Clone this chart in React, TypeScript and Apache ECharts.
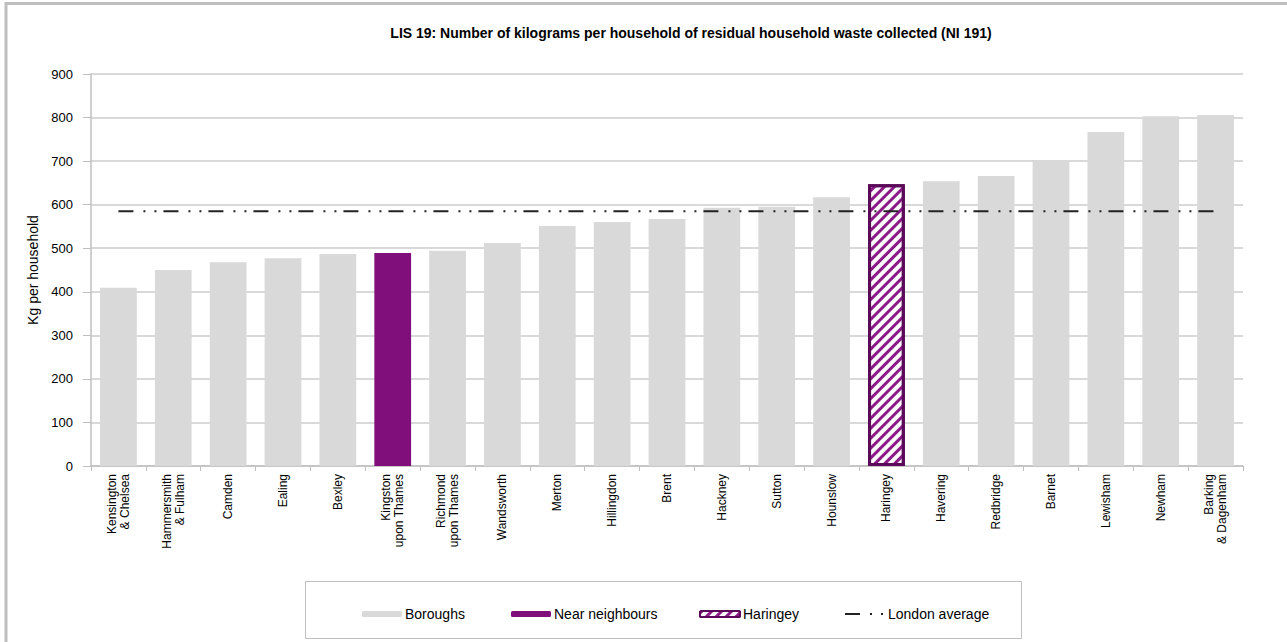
import React, { useEffect, useRef } from "react";
import * as echarts from "echarts";

const titleText =
  "LIS 19: Number of kilograms per household of residual household waste collected (NI 191)";
const yAxisName = "Kg per household";

const categories = [
  "Kensington\n& Chelsea",
  "Hammersmith\n& Fulham",
  "Camden",
  "Ealing",
  "Bexley",
  "Kingston\nupon Thames",
  "Richmond\nupon Thames",
  "Wandsworth",
  "Merton",
  "Hillingdon",
  "Brent",
  "Hackney",
  "Sutton",
  "Hounslow",
  "Haringey",
  "Havering",
  "Redbridge",
  "Barnet",
  "Lewisham",
  "Newham",
  "Barking\n& Dagenham",
];

const values = [
  409, 450, 468, 477, 487, 489, 494, 512, 551, 560, 567, 593, 595, 617, 647,
  654, 666, 702, 767, 803, 806,
];

// b = borough, n = near neighbour, h = Haringey
const groups = [
  "b", "b", "b", "b", "b", "n", "b", "b", "b", "b", "b", "b", "b", "b", "h",
  "b", "b", "b", "b", "b", "b",
];

const londonAverage = 585;

const seriesNames = ["Boroughs", "Near neighbours", "Haringey", "London average"];

const yTicks = { min: 0, max: 900, interval: 100 };

export default function App() {
  const ref = useRef<HTMLDivElement>(null);

  useEffect(() => {
    if (!ref.current) return;
    const chart = echarts.init(ref.current, null, { renderer: "svg" });

    const pick = (g: string) =>
      values.map((v, i) => (groups[i] === g ? v : "-"));

    const font = "'Liberation Sans', Arial, sans-serif";
    const legendPos = [357, 506, 694, 839];

    const option: any = {
      animation: false,
      backgroundColor: "#ffffff",
      textStyle: { fontFamily: font, color: "#000" },
      title: {
        text: titleText,
        left: 686,
        textAlign: "center",
        top: 21,
        textStyle: {
          fontFamily: font,
          fontSize: 14,
          fontWeight: "bold",
          color: "#000",
        },
      },
      legend: seriesNames.map((n, i) => ({
        data: [n],
        left: legendPos[i],
        top: 602,
        itemWidth: 40,
        itemHeight: 6,
        itemGap: 0,
        textStyle: { fontFamily: font, fontSize: 14, color: "#000", padding: [0, 0, 0, -2] },
        selectedMode: false,
        ...(i === 3
          ? {
              itemStyle: {
                color: "rgba(0,0,0,0)",
                borderColor: "rgba(0,0,0,0)",
                borderWidth: 0,
              },
            }
          : {}),
      })),
      grid: { left: 91, right: 44, top: 74, bottom: 176, containLabel: false },
      xAxis: {
        type: "category",
        data: categories,
        axisLine: { lineStyle: { color: "#bfbfbf", width: 1.5 } },
        axisTick: { show: true, alignWithLabel: false, length: 5, lineStyle: { color: "#bfbfbf" } },
        axisLabel: {
          rotate: 90,
          interval: 0,
          fontFamily: font,
          fontSize: 12,
          color: "#000",
          lineHeight: 13,
          margin: 8,
        },
      },
      yAxis: {
        type: "value",
        min: yTicks.min,
        max: yTicks.max,
        interval: yTicks.interval,
        name: yAxisName,
        nameLocation: "middle",
        nameGap: 48,
        nameTextStyle: { fontFamily: font, fontSize: 14, color: "#000" },
        axisLine: { show: true, lineStyle: { color: "#bfbfbf", width: 1.5 } },
        axisTick: { show: true, length: 8, lineStyle: { color: "#bfbfbf" } },
        axisLabel: { fontFamily: font, fontSize: 13, color: "#000", margin: 18 },
        splitLine: { lineStyle: { color: "#d9d9d9", width: 2 } },
      },
      series: [
        {
          name: seriesNames[0],
          type: "bar",
          stack: "s",
          barWidth: "67%",
          data: pick("b"),
          itemStyle: { color: "#d9d9d9" },
        },
        {
          name: seriesNames[1],
          type: "bar",
          stack: "s",
          barWidth: "67%",
          data: pick("n"),
          itemStyle: { color: "#800f7b" },
        },
        {
          name: seriesNames[2],
          type: "bar",
          stack: "s",
          barWidth: "67%",
          data: pick("h"),
          itemStyle: {
            color: "#ffffff",
            borderColor: "#5a0a57",
            borderWidth: 3,
            decal: {
              symbol: "rect",
              symbolSize: 1,
              color: "#8b1a88",
              dashArrayX: [1, 0],
              dashArrayY: [3, 4],
              rotation: -Math.PI / 4,
            },
          },
        },
        {
          name: seriesNames[3],
          type: "line",
          data: categories.map(() => londonAverage),
          symbol: "none",
          z: 5,
          lineStyle: { color: "#222", width: 2, type: [15, 10, 2, 9, 2, 7] },
          itemStyle: { color: "#222" },
        },
      ],
      graphic: [
        {
          type: "rect",
          shape: { x: 305.5, y: 581.5, width: 716, height: 57 },
          style: { fill: "none", stroke: "#bfbfbf", lineWidth: 1 },
          z: -1,
        },
        {
          type: "polyline",
          shape: { points: [[6, 642], [6, 3.5], [1287, 3.5]] },
          style: { fill: "none", stroke: "#bebebe", lineWidth: 3 },
        },
      ],
    };

    chart.setOption(option);
    return () => chart.dispose();
  }, []);

  return (
    <div
      ref={ref}
      style={{ position: "fixed", left: 0, top: 0, width: 1287, height: 642 }}
    />
  );
}
